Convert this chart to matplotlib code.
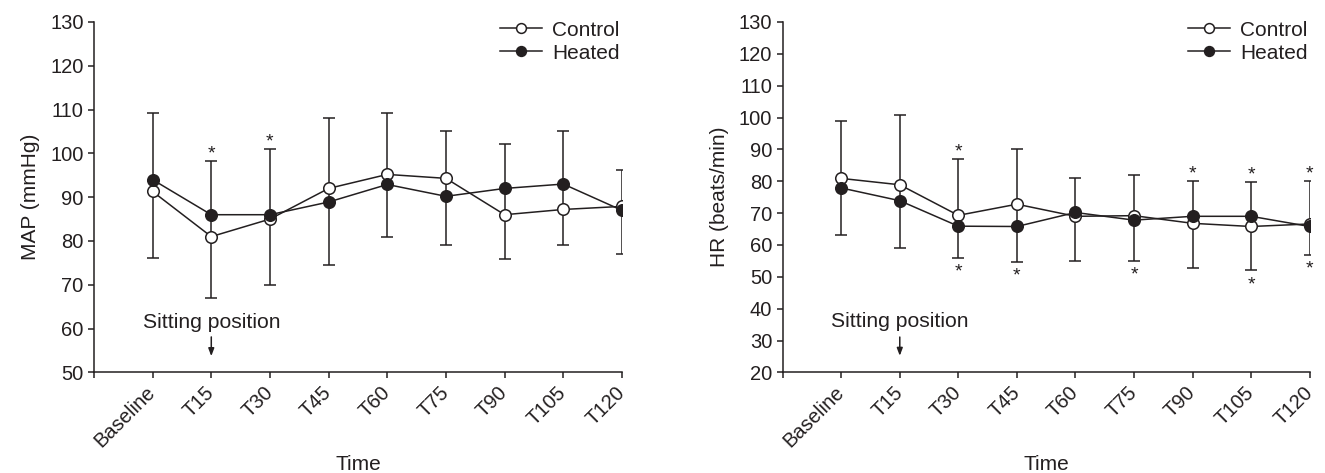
"""
MAP / HR over time, control vs heated group (two-panel line chart with SD bars).
"""
import matplotlib

matplotlib.use("Agg")
import matplotlib.pyplot as plt  # noqa: E402

plt.rcParams["font.family"] = ["Liberation Sans", "DejaVu Sans"]
INK = "#231f20"
for k in ("text.color", "axes.labelcolor", "xtick.color", "ytick.color"):
    plt.rcParams[k] = INK

times = ["Baseline", "T15", "T30", "T45", "T60", "T75", "T90", "T105", "T120"]

# MAP (mmHg)
map_control = [91.3, 81.0, 85.0, 92.0, 95.2, 94.3, 86.0, 87.2, 87.9]
map_heated = [94.0, 86.0, 86.0, 88.9, 92.9, 90.2, 92.0, 93.0, 87.0]
map_bar_top = [109.2, 98.3, 101.0, 108.1, 109.2, 105.2, 102.2, 105.2, 96.2]
map_bar_bottom = [76.1, 67.0, 70.0, 74.6, 81.0, 79.0, 76.0, 79.0, 77.0]
map_star_top = ["T15", "T30"]
map_star_bottom = []

# HR (beats/min)
hr_control = [80.9, 78.9, 69.3, 72.8, 69.0, 69.2, 66.8, 65.8, 66.6]
hr_heated = [77.9, 73.9, 65.9, 65.8, 70.2, 67.8, 69.0, 69.0, 65.8]
hr_bar_top = [99.0, 100.8, 87.0, 90.1, 80.9, 81.9, 80.0, 79.9, 80.0]
hr_bar_bottom = [63.0, 59.0, 56.0, 54.8, 55.0, 54.9, 52.8, 52.0, 56.8]
hr_star_top = ["T30", "T90", "T105", "T120"]
hr_star_bottom = ["T30", "T45", "T75", "T105", "T120"]

FS_TICK = 14.5
FS_TEXT = 15.2
FS_LABEL = 15
LW = 1.1


def panel(ax, ctrl, heat, top, bottom, star_top, star_bottom, ylim, ylabel, sit_y):
    x = list(range(len(times)))

    # SD bars: vertical line + caps at both ends
    ax.vlines(x, bottom, top, color=INK, lw=LW, zorder=1)
    ax.plot(x, top, ls="none", marker="_", ms=8, mew=LW, color=INK, zorder=1)
    ax.plot(x, bottom, ls="none", marker="_", ms=8, mew=LW, color=INK, zorder=1)

    ax.plot(x, ctrl, color=INK, lw=LW, marker="o", ms=8.3, mfc="white",
            mec=INK, mew=LW, label="Control", zorder=3)
    ax.plot(x, heat, color=INK, lw=LW, marker="o", ms=8.3, mfc=INK,
            mec=INK, mew=LW, label="Heated", zorder=4)

    for t in star_top:
        i = times.index(t)
        ax.annotate("*", (i, top[i]), xytext=(0, -1), textcoords="offset points",
                    ha="center", va="bottom", fontsize=14)
    for t in star_bottom:
        i = times.index(t)
        ax.annotate("*", (i, bottom[i]), xytext=(0, -4), textcoords="offset points",
                    ha="center", va="top", fontsize=14)

    # sitting position marker at T15
    ax.text(1, sit_y[0], "Sitting position", ha="center", va="center", fontsize=FS_TEXT)
    ax.annotate("", xy=(1, sit_y[2]), xytext=(1, sit_y[1]),
                arrowprops=dict(arrowstyle="-|>,head_length=0.45,head_width=0.17",
                                color=INK, lw=LW, shrinkA=0, shrinkB=0))

    ax.set_xlim(-1, len(times) - 1)
    ax.set_ylim(*ylim)
    ax.set_xticks(range(-1, len(times)))
    ax.set_xticklabels([""] + times, rotation=45, ha="right", va="center",
                       rotation_mode="anchor", fontsize=FS_TICK)
    ax.set_yticks(range(ylim[0], ylim[1] + 1, 10))
    ax.tick_params(axis="y", length=4.5, width=LW, pad=3, labelsize=FS_TICK)
    ax.tick_params(axis="x", length=4.5, width=LW, pad=8)
    for s in ("top", "right"):
        ax.spines[s].set_visible(False)
    for s in ("left", "bottom"):
        ax.spines[s].set_linewidth(LW)
        ax.spines[s].set_color(INK)
    ax.set_xlabel("Time", fontsize=FS_LABEL, va="top")
    ax.xaxis.set_label_coords(0.5, -0.236)
    ax.set_ylabel(ylabel, fontsize=FS_LABEL, labelpad=7)
    ax.legend(loc="upper right", bbox_to_anchor=(1.012, 1.028), frameon=False,
              fontsize=FS_LABEL, handlelength=2.0, handletextpad=0.5,
              labelspacing=0.2, markerscale=0.85, borderaxespad=0)


fig = plt.figure(figsize=(13.25, 4.73), dpi=100)
ax1 = fig.add_axes([0.0709, 0.2127, 0.3985, 0.7408])
ax2 = fig.add_axes([0.5907, 0.2127, 0.3977, 0.7408])

panel(ax1, map_control, map_heated, map_bar_top, map_bar_bottom,
      map_star_top, map_star_bottom, (50, 130), "MAP (mmHg)", (61.5, 58.1, 53.7))
panel(ax2, hr_control, hr_heated, hr_bar_top, hr_bar_bottom,
      hr_star_top, hr_star_bottom, (20, 130), "HR (beats/min)", (35.9, 31.1, 25.2))

fig.savefig("out.png", dpi=100)
plt.close(fig)
